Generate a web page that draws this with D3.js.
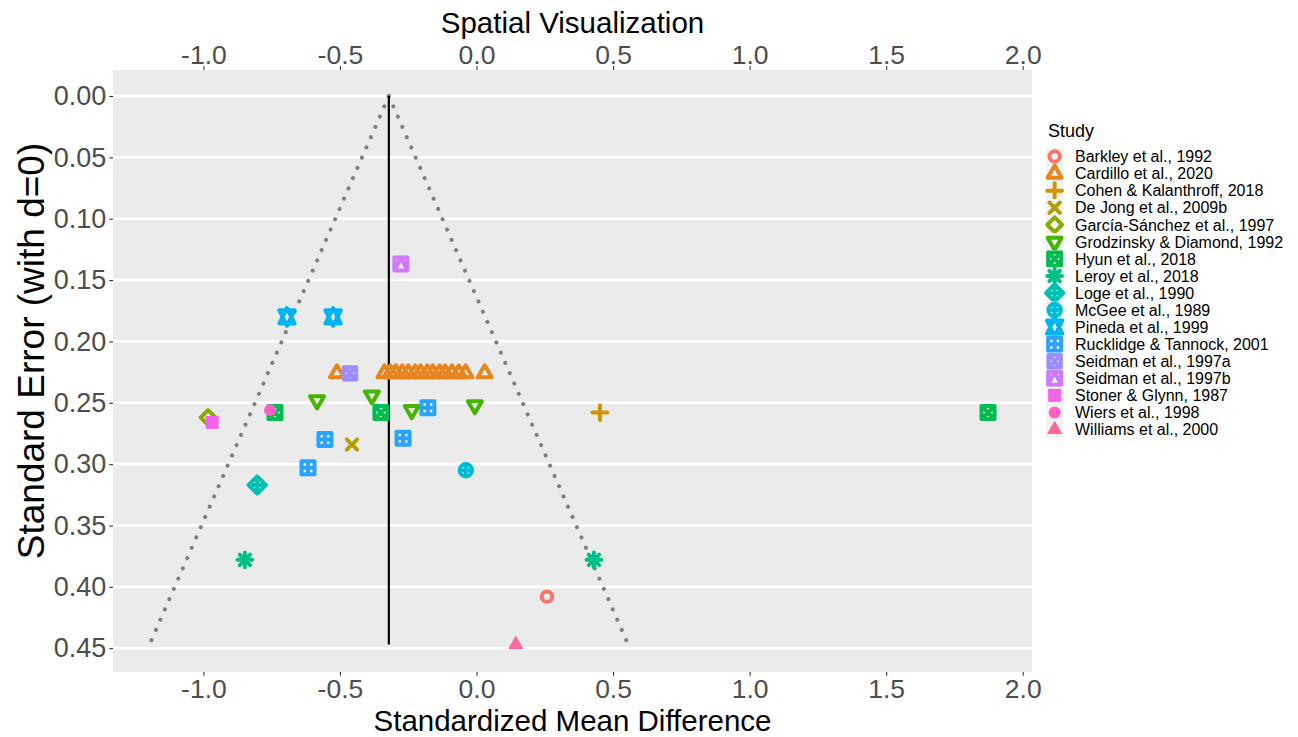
<!DOCTYPE html>
<html>
<head>
<meta charset="utf-8">
<script src="https://cdn.jsdelivr.net/npm/d3@7"></script>
<style>
  html, body { margin: 0; padding: 0; background: #ffffff; }
  svg { display: block; font-family: "Liberation Sans", Arial, sans-serif; }
</style>
</head>
<body>
<svg id="chart" width="1298" height="737"></svg>
<script>
// ---- data -------------------------------------------------------------
const studies = [
  "Barkley et al., 1992", "Cardillo et al., 2020", "Cohen & Kalanthroff, 2018",
  "De Jong et al., 2009b", "García-Sánchez et al., 1997", "Grodzinsky & Diamond, 1992",
  "Hyun et al., 2018", "Leroy et al., 2018", "Loge et al., 1990", "McGee et al., 1989",
  "Pineda et al., 1999", "Rucklidge & Tannock, 2001", "Seidman et al., 1997a",
  "Seidman et al., 1997b", "Stoner & Glynn, 1987", "Wiers et al., 1998", "Williams et al., 2000"
];
// R plotting symbol used for each study, in legend order
const studyShapes = [1, 2, 3, 4, 5, 6, 7, 8, 9, 10, 11, 12, 13, 14, 15, 16, 17];

// one entry per effect size: study, standardized mean difference, standard error
const pointStudy = [
  "Barkley et al., 1992",
  "Cardillo et al., 2020", "Cardillo et al., 2020", "Cardillo et al., 2020", "Cardillo et al., 2020",
  "Cardillo et al., 2020", "Cardillo et al., 2020", "Cardillo et al., 2020", "Cardillo et al., 2020",
  "Cardillo et al., 2020", "Cardillo et al., 2020", "Cardillo et al., 2020", "Cardillo et al., 2020",
  "Cardillo et al., 2020", "Cardillo et al., 2020", "Cardillo et al., 2020", "Cardillo et al., 2020",
  "Cohen & Kalanthroff, 2018",
  "De Jong et al., 2009b",
  "García-Sánchez et al., 1997",
  "Grodzinsky & Diamond, 1992", "Grodzinsky & Diamond, 1992", "Grodzinsky & Diamond, 1992", "Grodzinsky & Diamond, 1992",
  "Hyun et al., 2018", "Hyun et al., 2018", "Hyun et al., 2018",
  "Leroy et al., 2018", "Leroy et al., 2018",
  "Loge et al., 1990",
  "McGee et al., 1989",
  "Pineda et al., 1999", "Pineda et al., 1999",
  "Rucklidge & Tannock, 2001", "Rucklidge & Tannock, 2001", "Rucklidge & Tannock, 2001", "Rucklidge & Tannock, 2001",
  "Seidman et al., 1997a",
  "Seidman et al., 1997b",
  "Stoner & Glynn, 1987",
  "Wiers et al., 1998",
  "Williams et al., 2000"
];
const pointD = [
  0.258,
  -0.511, -0.337, -0.315, -0.295, -0.272, -0.250, -0.225, -0.205, -0.180, -0.160,
  -0.135, -0.115, -0.090, -0.065, -0.040, 0.030,
  0.452,
  -0.456,
  -0.983,
  -0.584, -0.383, -0.237, -0.006,
  -0.738, -0.350, 1.873,
  -0.848, 0.430,
  -0.803,
  -0.039,
  -0.694, -0.525,
  -0.555, -0.617, -0.269, -0.178,
  -0.463,
  -0.277,
  -0.968,
  -0.756,
  0.144
];
const pointSE = [
  0.408,
  0.226, 0.226, 0.226, 0.226, 0.226, 0.226, 0.226, 0.226, 0.226, 0.226,
  0.226, 0.226, 0.226, 0.226, 0.226, 0.226,
  0.258,
  0.284,
  0.262,
  0.248, 0.244, 0.256, 0.252,
  0.258, 0.258, 0.258,
  0.378, 0.378,
  0.317,
  0.305,
  0.180, 0.180,
  0.280, 0.303, 0.279, 0.254,
  0.226,
  0.137,
  0.266,
  0.256,
  0.447
];

const pooledEffect = -0.321;      // vertical reference line
const funnelSE = [0, 0.445];       // span of the 95% pseudo-confidence funnel
const xTicks = [-1.0, -0.5, 0.0, 0.5, 1.0, 1.5, 2.0];
const yTicks = [0.00, 0.05, 0.10, 0.15, 0.20, 0.25, 0.30, 0.35, 0.40, 0.45];

// ---- colours: ggplot2 default hue palette (polar LUV, c = 100, l = 65) --
function hclLuv(h, c, l) {
  const Xn = 95.047, Yn = 100.0, Zn = 108.883;
  const den = Xn + 15 * Yn + 3 * Zn;
  const un = 4 * Xn / den, vn = 9 * Yn / den;
  const hr = h * Math.PI / 180;
  const U = c * Math.cos(hr), V = c * Math.sin(hr);
  const Y = l > 8 ? Yn * Math.pow((l + 16) / 116, 3) : Yn * l / 903.3;
  const u = U / (13 * l) + un, v = V / (13 * l) + vn;
  const X = 9 * Y * u / (4 * v);
  const Z = -X / 3 - 5 * Y + 3 * Y / v;
  const x = X / 100, y = Y / 100, z = Z / 100;
  const lin = [
    3.240479 * x - 1.537150 * y - 0.498535 * z,
    -0.969256 * x + 1.875992 * y + 0.041556 * z,
    0.055648 * x - 0.204043 * y + 1.057311 * z
  ];
  const ch = lin.map(t => {
    const g = t <= 0.0031308 ? 12.92 * t : 1.055 * Math.pow(t, 1 / 2.4) - 0.055;
    return Math.round(Math.max(0, Math.min(1, g)) * 255);
  });
  return d3.rgb(ch[0], ch[1], ch[2]).formatHex();
}
const hues = d3.range(studies.length).map(i => 15 + i * 360 / studies.length);
const colour = d3.scaleOrdinal().domain(studies).range(hues.map(h => hclLuv(h, 100, 65)));
const shape = d3.scaleOrdinal().domain(studies).range(studyShapes);

// ---- layout -------------------------------------------------------------
const panel = { left: 113, right: 1032, top: 70, bottom: 672 };
const x = d3.scaleLinear().domain([-1.331, 2.034]).range([panel.left, panel.right]);
const y = d3.scaleLinear().domain([-0.0212, 0.4694]).range([panel.top, panel.bottom]);

const svg = d3.select("#chart");
svg.append("rect").attr("width", 1298).attr("height", 737).attr("fill", "#ffffff");

// panel background
svg.append("rect")
  .attr("x", panel.left).attr("y", panel.top)
  .attr("width", panel.right - panel.left).attr("height", panel.bottom - panel.top)
  .attr("fill", "#ebebeb");

// horizontal major grid lines
svg.append("g").selectAll("line").data(yTicks).join("line")
  .attr("x1", panel.left).attr("x2", panel.right)
  .attr("y1", d => y(d)).attr("y2", d => y(d))
  .attr("stroke", "#ffffff").attr("stroke-width", 2.6);

// ---- axes -----------------------------------------------------------------
const fmt1 = d3.format(".1f"), fmt2 = d3.format(".2f");
const minusFmt = v => fmt1(v).replace("−", "-");

function styleAxis(g, fontSize) {
  g.select(".domain").remove();
  g.selectAll(".tick line").attr("stroke", "#333333").attr("stroke-width", 1.1);
  g.selectAll(".tick text")
    .attr("fill", "#4d4d4d")
    .style("font-size", fontSize + "px")
    .style("font-family", "'Liberation Sans', Arial, sans-serif");
}

svg.append("g")
  .attr("transform", `translate(0,${panel.bottom})`)
  .call(d3.axisBottom(x).tickValues(xTicks).tickFormat(minusFmt).tickSize(3.7).tickPadding(3))
  .call(g => styleAxis(g, 26.5));

svg.append("g")
  .attr("transform", `translate(0,${panel.top})`)
  .call(d3.axisTop(x).tickValues(xTicks).tickFormat(minusFmt).tickSize(3.7).tickPadding(2))
  .call(g => styleAxis(g, 26.5));

svg.append("g")
  .attr("transform", `translate(${panel.left},0)`)
  .call(d3.axisLeft(y).tickValues(yTicks).tickFormat(fmt2).tickSize(3.7).tickPadding(3))
  .call(g => styleAxis(g, 27));

// axis titles
svg.append("text")
  .attr("x", (panel.left + panel.right) / 2).attr("y", 731)
  .attr("text-anchor", "middle").attr("fill", "#000")
  .style("font-size", "29.5px")
  .text("Standardized Mean Difference");

svg.append("text")
  .attr("x", (panel.left + panel.right) / 2).attr("y", 33)
  .attr("text-anchor", "middle").attr("fill", "#000")
  .style("font-size", "29.5px")
  .text("Spatial Visualization");

svg.append("text")
  .attr("transform", `translate(44,${(panel.top + panel.bottom) / 2 - 20}) rotate(-90)`)
  .attr("text-anchor", "middle").attr("fill", "#000")
  .style("font-size", "37px")
  .text("Standard Error (with d=0)");

// ---- funnel and reference line --------------------------------------------
const plot = svg.append("g");
const funnelSide = s => funnelSE.map(se => [pooledEffect + s * 1.96 * se, se]);
const line = d3.line().x(d => x(d[0])).y(d => y(d[1]));

[-1, 1].forEach(s => {
  plot.append("path")
    .attr("d", line(funnelSide(s)))
    .attr("fill", "none")
    .attr("stroke", "#808080")
    .attr("stroke-width", 4)
    .attr("stroke-linecap", "round")
    .attr("stroke-dasharray", "0.1 11.1");
});

plot.append("path")
  .attr("d", line([[pooledEffect, 0], [pooledEffect, d3.max(pointSE)]]))
  .attr("stroke", "#000").attr("stroke-width", 2.2).attr("fill", "none");

// ---- point symbols (R pch glyphs) ------------------------------------------
const U = 5.2;        // base symbol radius
const SW = 4;         // symbol stroke width

function symbolPath(pch) {
  const p = d3.path();
  const circle = r => { p.moveTo(r, 0); p.arc(0, 0, r, 0, 2 * Math.PI); p.closePath(); };
  const seg = (x1, y1, x2, y2) => { p.moveTo(x1, y1); p.lineTo(x2, y2); };
  const poly = pts => { p.moveTo(pts[0][0], pts[0][1]); pts.slice(1).forEach(q => p.lineTo(q[0], q[1])); p.closePath(); };
  const sq = h => poly([[-h, -h], [h, -h], [h, h], [-h, h]]);
  const tri = (r, dir) => poly([[0, -dir * r], [0.866 * r, dir * 0.5 * r], [-0.866 * r, dir * 0.5 * r]]);
  const plus = h => { seg(-h, 0, h, 0); seg(0, -h, 0, h); };
  const cross = h => { seg(-h, -h, h, h); seg(-h, h, h, -h); };
  const diamond = h => poly([[0, -h], [h, 0], [0, h], [-h, 0]]);
  const S = 1.25 * U, R3 = 1.555 * U;
  switch (pch) {
    case 1: circle(U); break;
    case 2: tri(R3, 1); break;
    case 3: plus(1.414 * U); break;
    case 4: cross(U); break;
    case 5: diamond(1.414 * U); break;
    case 6: tri(R3, -1); break;
    case 7: sq(S); cross(S); break;
    case 8: cross(U); plus(1.414 * U); break;
    case 9: diamond(1.65 * U); plus(1.65 * U); break;
    case 10: circle(U * 1.2); plus(U * 1.2); break;
    case 11: {
      const r = 1.555 * U * 1.1, yc = 0.75 * r, xc = 0.866 * r;
      poly([[0, -r], [xc, yc], [-xc, yc]]);
      poly([[0, r], [xc, -yc], [-xc, -yc]]);
      break;
    }
    case 12: sq(S); plus(S); break;
    case 13: sq(S * 0.95); cross(S * 0.95); break;
    case 14: sq(S); poly([[-S, S], [0, -S], [S, S]]); break;
    case 15: sq(U * 1.25); break;
    case 16: circle(U * 1.15); break;
    case 17: tri(R3 * 1.1, 1); break;
  }
  return p.toString();
}
const filledShape = pch => pch >= 15;

function drawSymbol(sel, study) {
  const pch = shape(study), col = colour(study);
  sel.append("path")
    .attr("d", symbolPath(pch))
    .attr("fill", filledShape(pch) ? col : "none")
    .attr("stroke", filledShape(pch) ? "none" : col)
    .attr("stroke-width", SW)
    .attr("stroke-linejoin", "round")
    .attr("stroke-linecap", "round");
}

const points = pointStudy.map((s, i) => ({ study: s, d: pointD[i], se: pointSE[i] }));
plot.append("g").selectAll("g").data(points).join("g")
  .attr("transform", d => `translate(${x(d.d)},${y(d.se)})`)
  .each(function (d) { drawSymbol(d3.select(this), d.study); });

// ---- legend -------------------------------------------------------------------
const legend = svg.append("g").attr("transform", "translate(1046,148)");
legend.append("text")
  .attr("x", 2).attr("y", -11)
  .attr("fill", "#000").style("font-size", "18px")
  .text("Study");

const keyH = 17.06, keyW = 17.3;
const rows = legend.selectAll("g.key").data(studies).join("g")
  .attr("class", "key")
  .attr("transform", (d, i) => `translate(0,${i * keyH})`);
rows.append("rect")
  .attr("width", keyW).attr("height", keyH + 0.3)
  .attr("fill", "#f2f2f2");
rows.append("g")
  .attr("transform", `translate(${keyW / 2},${keyH / 2})`)
  .each(function (d) { drawSymbol(d3.select(this), d); });
rows.append("text")
  .attr("x", 29).attr("y", keyH / 2)
  .attr("dy", "0.36em")
  .attr("fill", "#000").style("font-size", "16px")
  .text(d => d);
</script>
</body>
</html>
